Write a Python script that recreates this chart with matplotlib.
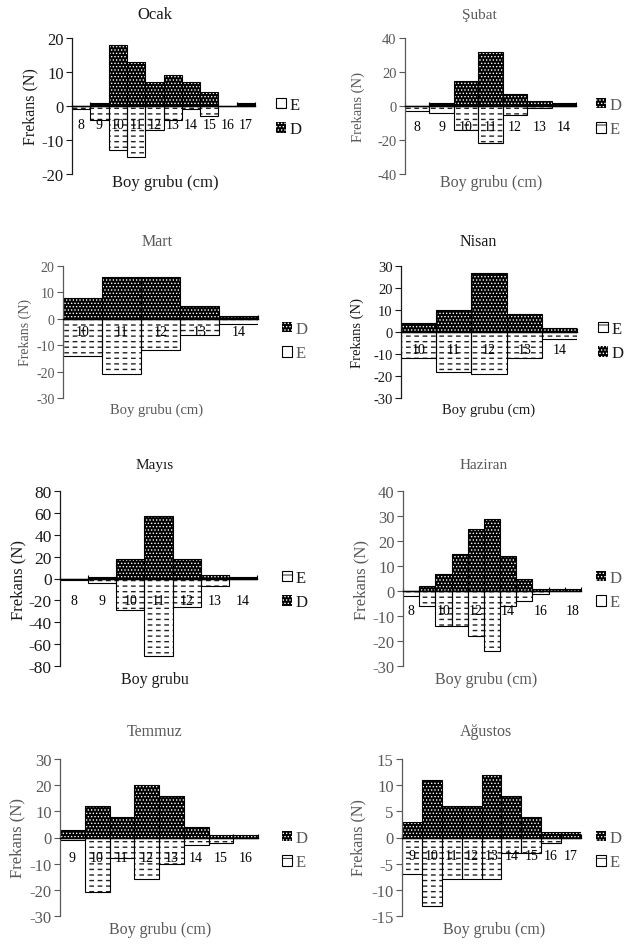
import numpy as np
import matplotlib.pyplot as plt
from matplotlib.patches import Patch

plt.rcParams['font.family'] = ['Liberation Serif', 'DejaVu Serif']
plt.rcParams['hatch.linewidth'] = 0.6

# boy gruplari (cm) ve frekanslar: D pozitif, E negatif
ocak_boy = ['8', '9', '10', '11', '12', '13', '14', '15', '16', '17']
ocak_d = [0, 1, 18, 13, 7, 9, 7, 4, 0, 1]
ocak_e = [-1, -4, -13, -15, -7, -4, -1, -3, 0, 0]

subat_boy = ['8', '9', '10', '11', '12', '13', '14']
subat_d = [0, 2, 15, 32, 7, 3, 2]
subat_e = [-3, -4, -14, -22, -5, -1, 0]

mart_boy = ['10', '11', '12', '13', '14']
mart_d = [8, 16, 16, 5, 1]
mart_e = [-14, -21, -12, -6, -2]

nisan_boy = ['10', '11', '12', '13', '14']
nisan_d = [4, 10, 27, 8, 2]
nisan_e = [-12, -18, -19, -12, -3]

mayis_boy = ['8', '9', '10', '11', '12', '13', '14']
mayis_d = [0, 1, 18, 57, 18, 3, 1]
mayis_e = [-1, -4, -29, -71, -26, -7, 0]

haziran_boy = ['8', '', '10', '', '12', '', '14', '', '16', '', '18']
haziran_d = [0, 2, 7, 15, 25, 29, 14, 5, 1, 1, 1]
haziran_e = [-2, -6, -14, -14, -18, -24, -6, -4, -1, 0, 0]

temmuz_boy = ['9', '10', '11', '12', '13', '14', '15', '16']
temmuz_d = [3, 12, 8, 20, 16, 4, 1, 1]
temmuz_e = [-1, -21, -8, -16, -10, -3, -2, 0]

agustos_boy = ['9', '10', '11', '12', '13', '14', '15', '16', '17']
agustos_d = [3, 11, 6, 6, 12, 8, 4, 1, 1]
agustos_e = [-7, -13, -8, -8, -8, -3, -3, -1, 0]

W, H = 627, 945
DARK = '#1a1a1a'
GRAY = '#595959'

# (baslik, boy, D, E, yticks, axes px [sol, sag, ust, alt], baslik xy, xlabel xy, ylabel xy,
#  legend xy, legend sirasi, renk, (tick, ylabel, xlabel, baslik) boyu, tick pad, xlabel)
panels = [
    ('Ocak', ocak_boy, ocak_d, ocak_e, [-20, -10, 0, 10, 20], (72, 255, 39, 175),
     (155, 15), (165, 183), (30, 107), (276, 118), 'ED', DARK, (12, 11.5, 12, 12), 9, 'Boy grubu (cm)'),
    ('Şubat', subat_boy, subat_d, subat_e, [-40, -20, 0, 20, 40], (405, 576, 39, 175),
     (479, 15), (491, 183), (358, 107), (596, 118), 'DE', GRAY, (10.5, 10.5, 11.5, 11), 10.4, 'Boy grubu (cm)'),
    ('Mart', mart_boy, mart_d, mart_e, [-30, -20, -10, 0, 10, 20], (63, 258, 267, 399),
     (157, 242), (157, 410), (25, 333), (282, 342), 'DE', GRAY, (10, 10, 10.5, 11.5), 4.8, 'Boy grubu (cm)'),
    ('Nisan', nisan_boy, nisan_d, nisan_e, [-30, -20, -10, 0, 10, 20, 30], (401, 577, 267, 399),
     (478, 242), (489, 410), (357, 333), (598, 342), 'ED', DARK, (10.5, 10.5, 10.5, 11.5), 8.2, 'Boy grubu (cm)'),
    ('Mayıs', mayis_boy, mayis_d, mayis_e, [-80, -60, -40, -20, 0, 20, 40, 60, 80], (60, 257, 492, 667),
     (155, 466), (155, 680), (18, 580), (282, 591), 'ED', DARK, (12.5, 12, 11.5, 11), 10.9, 'Boy grubu'),
    ('Haziran', haziran_boy, haziran_d, haziran_e, [-30, -20, -10, 0, 10, 20, 30, 40], (403, 581, 492, 667),
     (484, 466), (486, 680), (361, 580), (596, 591), 'DE', GRAY, (12, 12, 11.5, 11), 9.7, 'Boy grubu (cm)'),
    ('Temmuz', temmuz_boy, temmuz_d, temmuz_e, [-30, -20, -10, 0, 10, 20, 30], (60, 258, 760, 917),
     (155, 732), (160, 930), (17, 838), (282, 851), 'DE', GRAY, (12, 12, 11.5, 11.5), 9.7, 'Boy grubu (cm)'),
    ('Ağustos', agustos_boy, agustos_d, agustos_e, [-15, -10, -5, 0, 5, 10, 15], (402, 581, 760, 917),
     (486, 732), (494, 930), (358, 838), (596, 851), 'DE', GRAY, (12, 11.5, 11.5, 11.5), 8.3, 'Boy grubu (cm)'),
]

fig = plt.figure(figsize=(W / 100, H / 100), dpi=100)

for (title, boy, d, e, yt, box, txy, xlxy, ylxy, lxy, order, col, sizes, pad, xl) in panels:
    fs_t, fs_y, fs_x, fs_title = sizes
    l, r, t, b = box
    ax = fig.add_axes([l / W, 1 - b / H, (r - l) / W, (b - t) / H])
    x = np.arange(len(boy))

    # D: siyah zemin, beyaz noktalar
    ax.bar(x, d, width=1, color='black', edgecolor='white', hatch='.....', linewidth=0, zorder=1)
    ax.bar(x, d, width=1, fill=False, edgecolor='black', linewidth=0.8, zorder=1.3)
    # E: beyaz zemin, kesik cizgiler (yatay cizgi + beyaz dikey bosluklar)
    with plt.rc_context({'hatch.linewidth': 1.0}):
        ax.bar(x, e, width=1, color='white', edgecolor='#222222', hatch='---', linewidth=0, zorder=1)
    with plt.rc_context({'hatch.linewidth': 2.6}):
        ax.bar(x, e, width=1, fill=False, edgecolor='white', hatch='||', linewidth=0, zorder=1.1)
    ax.bar(x, e, width=1, fill=False, edgecolor='black', linewidth=0.8, zorder=1.3)

    ax.set_xlim(-0.5, len(boy) - 0.5)
    ax.set_ylim(yt[0], yt[-1])
    ax.set_yticks(yt)
    ax.set_yticklabels([str(v) for v in yt], fontsize=fs_t, color=col)
    ax.set_xticks(x)
    ax.set_xticklabels(boy, fontsize=fs_t, color=col)
    ax.set_xticks(np.arange(len(boy) + 1) - 0.5, minor=True)
    ax.tick_params(axis='x', which='major', length=0, pad=pad)
    ax.tick_params(axis='x', which='minor', direction='in', length=3, width=0.8)
    ax.tick_params(axis='y', direction='out', length=4, width=0.8, color=col, pad=2)

    ax.spines['top'].set_visible(False)
    ax.spines['right'].set_visible(False)
    ax.spines['bottom'].set_position(('data', 0))
    ax.spines['bottom'].set_linewidth(1.0)
    ax.spines['left'].set_color(col)
    ax.spines['left'].set_linewidth(0.9)
    ax.patch.set_visible(False)

    fig.text(txy[0] / W, 1 - txy[1] / H, title, ha='center', va='center', fontsize=fs_title, color=col)
    fig.text(xlxy[0] / W, 1 - xlxy[1] / H, xl, ha='center', va='center', fontsize=fs_x, color=col)
    fig.text(ylxy[0] / W, 1 - ylxy[1] / H, 'Frekans (N)', ha='center', va='center', rotation=90,
             fontsize=fs_y, color=col)

    hd = Patch(facecolor='black', edgecolor='white', hatch='.....', linewidth=0)
    he = Patch(facecolor='white', edgecolor='black', hatch='-', linewidth=0.8)
    handles = {'D': hd, 'E': he}
    ax.legend([handles[k] for k in order], list(order), loc='center left',
              bbox_to_anchor=(lxy[0] / W, 1 - lxy[1] / H), bbox_transform=fig.transFigure,
              frameon=False, fontsize=12, borderpad=0, borderaxespad=0,
              handlelength=0.6, handleheight=0.6, handletextpad=0.2, labelspacing=0.5,
              labelcolor=col)

fig.savefig('out.png', dpi=100)
